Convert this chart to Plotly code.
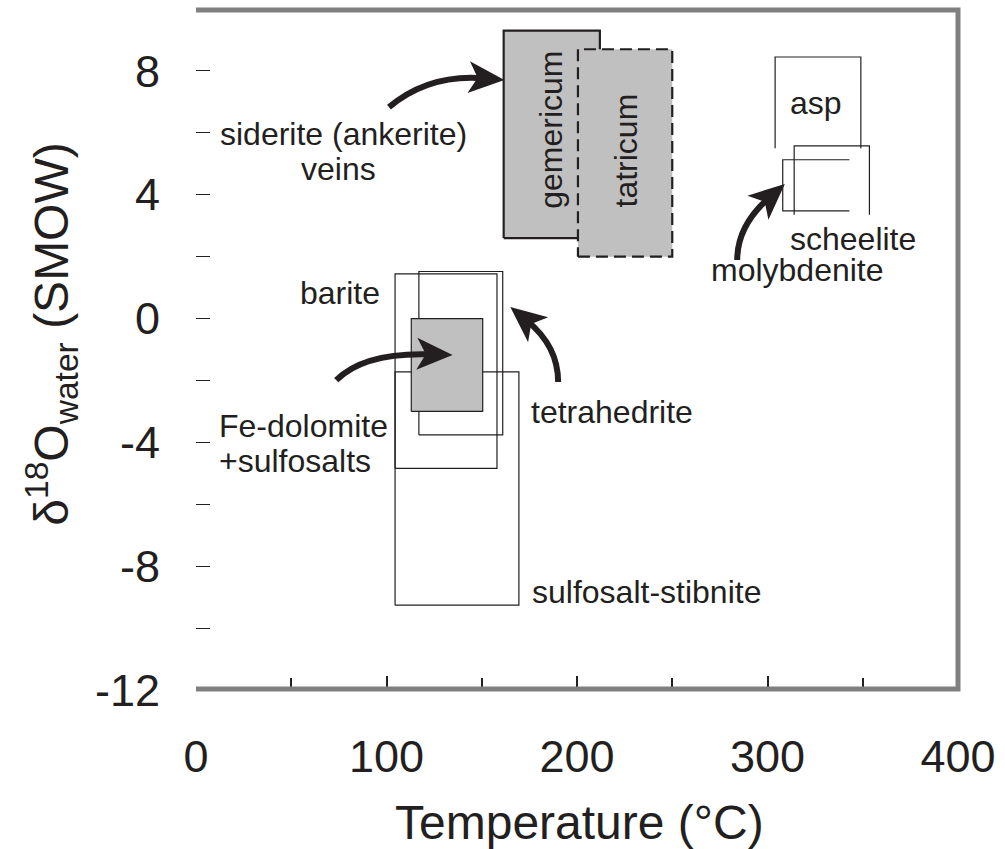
import math
import plotly.graph_objects as go

FONT = "Arial, 'Liberation Sans', Helvetica, sans-serif"
INK = "#231f20"
GRAY_FILL = "#c0c0c0"
FRAME = "#808080"

# ---------------- data (temperature in °C, delta18O water in permil SMOW) ----------------
box_names = ["gemericum", "tatricum", "barite", "tetrahedrite", "sulfosalt-stibnite",
             "Fe-dolomite+sulfosalts", "asp", "scheelite", "molybdenite"]
t_min = [161.5, 200.5, 104.5, 117.0, 104.5, 113.0, 304.0, 314.0, 308.0]
t_max = [212.0, 250.0, 158.0, 161.0, 169.5, 150.5, 349.0, 353.5, 343.0]
d_min = [2.6, 2.0, -4.84, -3.76, -9.26, -3.0, 5.5, 3.35, 3.48]
d_max = [9.3, 8.7, 1.44, 1.52, -1.72, 0.0, 8.45, 5.58, 5.13]
open_side = [None, None, None, None, None, None, "bottom", "bottom", "right"]

x_ticks = [0, 100, 200, 300, 400]
x_ticktext = ["0", "100", "200", "300", "400"]
y_ticks = [-12, -8, -4, 0, 4, 8]
y_ticktext = ["-12", "-8", "-4", "0", "4", "8"]

# ---------------- styles ----------------
style = {
    "gemericum": dict(fill=GRAY_FILL, width=2.2, dash="solid"),
    "tatricum": dict(fill=GRAY_FILL, width=2.2, dash="12px,6px"),
    "Fe-dolomite+sulfosalts": dict(fill=GRAY_FILL, width=1.2, dash="solid"),
}
default_style = dict(fill=None, width=1.2, dash="solid")

fig = go.Figure()

for i, name in enumerate(box_names):
    a, b, c, d = t_min[i], t_max[i], d_min[i], d_max[i]
    side = open_side[i]
    if side == "bottom":
        xs, ys = [a, a, b, b], [c, d, d, c]
    elif side == "right":
        xs, ys = [b, a, a, b], [d, d, c, c]
    else:
        xs, ys = [a, b, b, a, a], [c, c, d, d, c]
    st = style.get(name, default_style)
    fig.add_trace(go.Scatter(
        x=xs, y=ys, mode="lines", name=name,
        line=dict(color=INK, width=st["width"], dash=st["dash"]),
        fill="toself" if st["fill"] else "none",
        fillcolor=st["fill"] if st["fill"] else None,
        hoverinfo="skip", showlegend=False,
    ))

# ---------------- labels ----------------
labels = [
    ("siderite (ankerite)", 77.3, 5.96, "center", 0),
    ("veins", 74.7, 4.84, "center", 0),
    ("gemericum", 186.2, 6.09, "center", -90),
    ("tatricum", 225.9, 5.44, "center", -90),
    ("asp", 325.3, 6.96, "center", 0),
    ("scheelite", 344.9, 2.58, "center", 0),
    ("molybdenite", 315.9, 1.58, "center", 0),
    ("barite", 75.7, 0.84, "center", 0),
    ("Fe-dolomite", 11.0, -3.46, "left", 0),
    ("+sulfosalts", 11.2, -4.59, "left", 0),
    ("tetrahedrite", 174.6, -3.03, "left", 0),
    ("sulfosalt-stibnite", 175.2, -8.85, "left", 0),
]
annotations = []
for txt, x, y, anc, ang in labels:
    annotations.append(dict(text=txt, x=x, y=y, xref="x", yref="y", showarrow=False,
                            xanchor=anc, yanchor="middle", textangle=ang,
                            font=dict(family=FONT, size=32, color=INK)))

# axis titles
annotations.append(dict(text="Temperature (°C)", x=0.503, y=-0.194, xref="paper", yref="paper",
                        showarrow=False, xanchor="center", yanchor="middle",
                        font=dict(family=FONT, size=48, color=INK)))
annotations.append(dict(text="δ<sup>18</sup>O<sub>water</sub> (SMOW)", x=-0.19, y=0.522,
                        xref="paper", yref="paper", showarrow=False, textangle=-90,
                        xanchor="center", yanchor="middle",
                        font=dict(family=FONT, size=48, color=INK)))

# ---------------- curved arrows (data coords: tail, control, tip) ----------------
arrows = [
    ((101.3, 6.83), (122.2, 7.90), (161.9, 7.71)),
    ((73.6, -1.99), (88.3, -1.08), (134.7, -1.18)),
    ((190.1, -2.05), (190.1, -0.89), (165.0, 0.37)),
    ((284.1, 1.89), (284.1, 2.99), (309.1, 4.35)),
]
SX = 766 / 400.0
SY = 681 / 22.0


def to_px(p):
    return p[0] * SX, -p[1] * SY


def to_data(p):
    return p[0] / SX, -p[1] / SY


shapes = []
for tail, ctrl, tip in arrows:
    L, W = 36.0, 32.0
    tx, ty = to_px(tip)
    cx, cy = to_px(ctrl)
    dx, dy = tx - cx, ty - cy
    n = math.hypot(dx, dy)
    dx, dy = dx / n, dy / n
    nx, ny = -dy, dx
    base = to_data((tx - 0.6 * L * dx, ty - 0.6 * L * dy))
    b1 = to_data((tx - L * dx + W / 2 * nx, ty - L * dy + W / 2 * ny))
    b2 = to_data((tx - L * dx - W / 2 * nx, ty - L * dy - W / 2 * ny))
    notch = to_data((tx - 0.75 * L * dx, ty - 0.75 * L * dy))
    shapes.append(dict(type="path", xref="x", yref="y",
                       path=f"M {tail[0]},{tail[1]} Q {ctrl[0]},{ctrl[1]} {base[0]},{base[1]}",
                       line=dict(color=INK, width=6), fillcolor="rgba(0,0,0,0)"))
    shapes.append(dict(type="path", xref="x", yref="y",
                       path=f"M {tip[0]},{tip[1]} L {b1[0]},{b1[1]} L {notch[0]},{notch[1]} L {b2[0]},{b2[1]} Z",
                       line=dict(color=INK, width=0), fillcolor=INK))

# frame (top, right, bottom)
ytop = 1 - 1 / 681.0
ybot = 1 / 681.0
xr = 1.0
shapes.append(dict(type="path", xref="paper", yref="paper", layer="above",
                   path=f"M 0,{ytop} L {xr},{ytop} L {xr},{ybot} L 0,{ybot}",
                   line=dict(color=FRAME, width=5), fillcolor="rgba(0,0,0,0)"))

fig.update_layout(
    width=1005, height=849,
    margin=dict(l=196, r=43, t=9, b=159),
    paper_bgcolor="white", plot_bgcolor="white",
    showlegend=False,
    annotations=annotations,
    shapes=shapes,
    xaxis=dict(range=[0, 400], tickvals=x_ticks, ticktext=x_ticktext, ticks="inside",
               ticklen=14, tickwidth=2, tickcolor=INK, showline=False, showgrid=False,
               zeroline=False,
               minor=dict(dtick=50, tick0=0, ticks="inside", ticklen=12, tickwidth=2, tickcolor=INK),
               tickfont=dict(family=FONT, size=45, color=INK), ticklabelstandoff=36,
               fixedrange=True),
    yaxis=dict(range=[-12, 10], tickvals=y_ticks, ticktext=y_ticktext, ticks="inside",
               ticklen=14, tickwidth=1, tickcolor=INK, showline=False, showgrid=False,
               zeroline=False,
               minor=dict(dtick=2, tick0=0, ticks="inside", ticklen=14, tickwidth=1, tickcolor=INK),
               tickfont=dict(family=FONT, size=45, color=INK), ticklabelstandoff=35,
               fixedrange=True),
)

fig.write_html("out.html", config={"displayModeBar": False},
               post_script="document.body.style.margin='0';document.body.style.overflow='hidden';")
